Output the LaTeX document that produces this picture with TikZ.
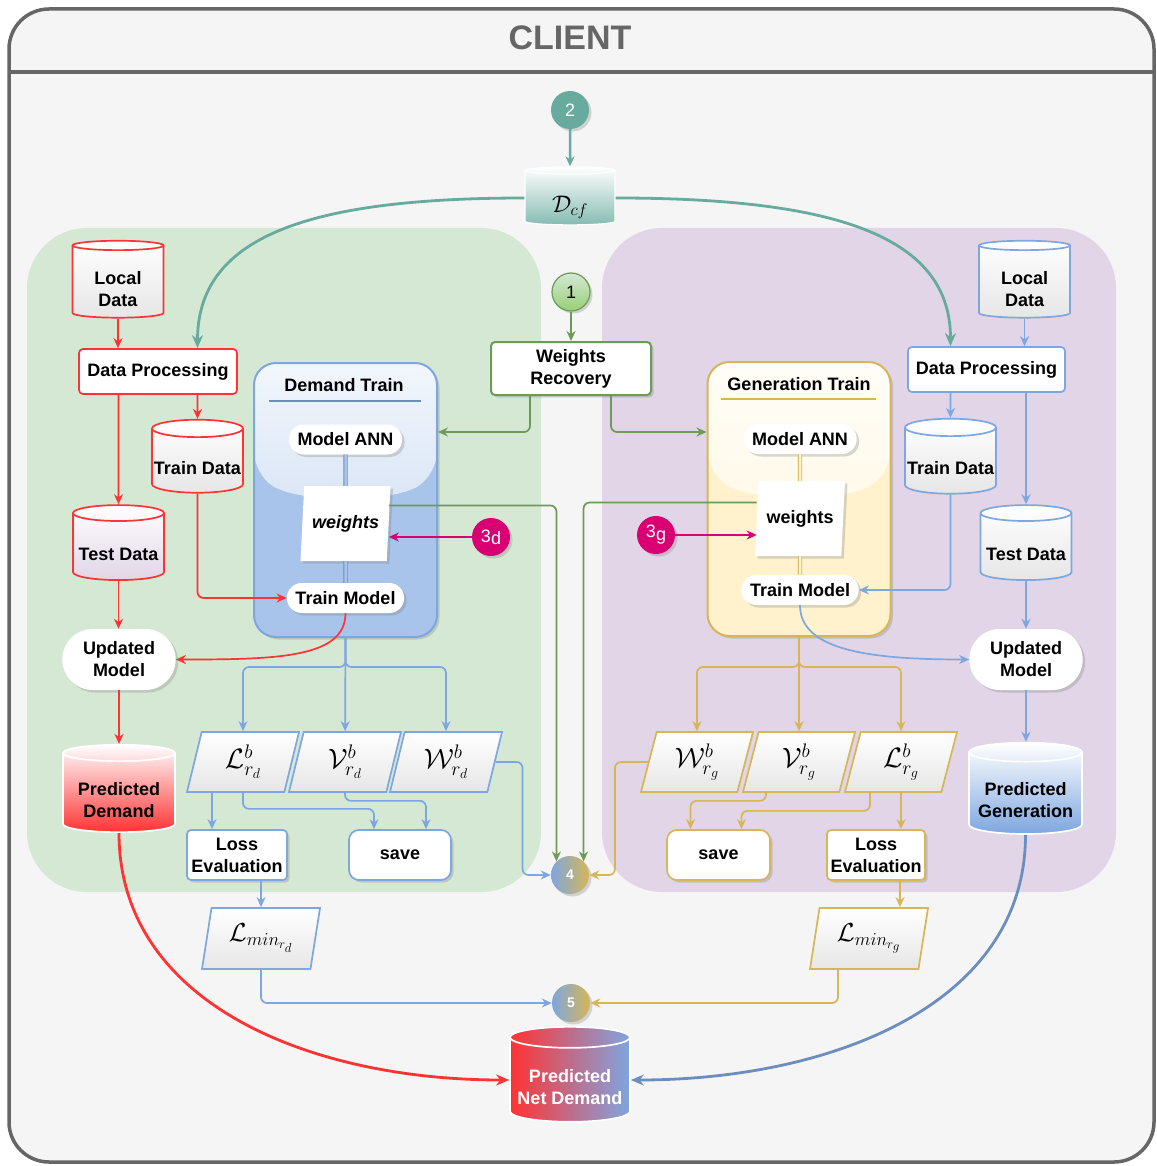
\documentclass[tikz,border=0pt]{standalone}
\usepackage{fix-cm}
\usepackage{fontspec}
\setmainfont{Liberation Sans}
\usepackage{amsmath}
\usetikzlibrary{arrows.meta, positioning, shapes.geometric, shapes.misc, calc, shadows}

\definecolor{framegray}{HTML}{666666}
\definecolor{framebg}{HTML}{F5F5F5}
\definecolor{leafgreen}{HTML}{D5E8D4}
\definecolor{lilac}{HTML}{E1D5E7}
\definecolor{tealc}{HTML}{67AB9F}
\definecolor{demandred}{HTML}{FF3333}
\definecolor{genblue}{HTML}{7EA6E0}
\definecolor{curveblue}{HTML}{6C8EBF}
\definecolor{genyellow}{HTML}{D6B656}
\definecolor{weightgreen}{HTML}{6D9B57}
\definecolor{limegreen}{HTML}{97D077}
\definecolor{stepmagenta}{HTML}{D80073}
\definecolor{skyblue}{HTML}{A9C4EB}
\definecolor{cream}{HTML}{FFF2CC}
\definecolor{boxgray}{HTML}{E6E6E6}

% text of a cylinder sits below its lid
\newcommand{\cyllabel}[1]{\setbox0\hbox{\begin{tabular}{@{}c@{}}#1\end{tabular}}%
  \ht0=\dimexpr\ht0+18pt\relax\box0}

\begin{document}
\begin{tikzpicture}[
    x=1pt, y=-1pt,
    font=\fontsize{18}{22}\selectfont\bfseries,
    arrow/.style={-{Stealth[length=10pt, width=9pt]}, line width=1.7pt, rounded corners=6pt},
    bigarrow/.style={-{Stealth[length=13pt, width=11pt]}, line width=2.8pt},
    shadowed/.style={drop shadow={shadow xshift=2.5pt, shadow yshift=-2.5pt, opacity=0.3}},
    db/.style={cylinder, shape border rotate=90, aspect=0.2, line width=1.7pt,
               minimum width=91pt, minimum height=75pt, inner sep=0pt,
               top color=white, bottom color=boxgray},
    proc/.style={draw, rounded corners=4pt, fill=white, line width=1.7pt,
                 align=center, inner sep=1pt},
    pill/.style={rounded rectangle, fill=white, minimum width=120pt,
                 minimum height=30pt, align=center, shadowed},
    para/.style={trapezium, trapezium left angle=70, trapezium right angle=110,
                 trapezium stretches body, draw, line width=1.7pt,
                 top color=white, bottom color=boxgray, inner xsep=0pt,
                 minimum width=112pt, minimum height=60pt,
                 font=\fontsize{28}{30}\selectfont},
    wbox/.style={trapezium, trapezium left angle=81, trapezium right angle=99,
                 trapezium stretches body, fill=white, minimum width=90pt,
                 minimum height=75pt, shadowed},
    badge/.style={circle, minimum size=38pt, inner sep=0pt, shadowed,
                  font=\fontsize{18}{20}\selectfont\mdseries},
    trainbox/.style={draw, line width=2pt, rounded corners=22pt,
                     minimum width=183pt, minimum height=274pt, shadowed},
    glass/.style={path picture={
        \shade[top color=#1!15!white, bottom color=#1!70!white]
          ($(path picture bounding box.north west)+(0,111)$)
          .. controls ($(path picture bounding box.north west)+(45,140)$)
          and ($(path picture bounding box.north east)+(-45,140)$) ..
          ($(path picture bounding box.north east)+(0,111)$)
          |- (path picture bounding box.north west) -- cycle;}},
  ]
    \useasboundingbox (0,0) rectangle (1156,1166);

    % client frame
    \draw[framegray, line width=3.5pt, fill=framebg, rounded corners=40pt]
      (9,9) rectangle (1154,1162);
    \draw[framegray, line width=3.5pt] (9,72) -- (1154,72);
    \node[font=\fontsize{34}{36}\selectfont\bfseries, text=framegray]
      (client) at (570,38) {CLIENT};

    % demand and generation areas
    \fill[leafgreen, rounded corners=60pt] (27,228) rectangle (541,892);
    \fill[lilac, rounded corners=60pt] (602,228) rectangle (1116,892);

    % shared dataset
    \node[badge, fill=tealc, text=white] (s2) at (570,110) {2};
    \node[db, draw=white, line width=1.2pt, bottom color=tealc!80!white,
          minimum width=90pt, minimum height=58pt,
          font=\fontsize{24}{26}\selectfont] (dcf) at (570,198)
      {\cyllabel{$\mathcal{D}_{cf}$}};

    % weights recovery
    \node[badge, draw=weightgreen, line width=1.2pt, top color=leafgreen,
          bottom color=limegreen] (s1) at (571,292) {1};
    \node[proc, draw=weightgreen, line width=2pt, minimum width=160pt,
          minimum height=53pt, shadowed] (recover) at (571,368.5)
      {Weights\\Recovery};

    % demand side
    \node[db, draw=demandred] (dlocal) at (118,282) {\cyllabel{Local\\Data}};
    \node[proc, draw=demandred, minimum width=158pt, minimum height=45pt]
      (dprep) at (158,371.5) {Data Processing};
    \node[db, draw=demandred, minimum height=73pt] (dtraindata) at (197.5,461)
      {\cyllabel{Train Data}};
    \node[db, draw=demandred, bottom color=lilac] (dtest) at (118.5,547)
      {\cyllabel{Test Data}};
    \node[pill, minimum height=61pt] (dupdate) at (119,659.5) {Updated\\Model};
    \node[db, draw=white, bottom color=demandred, minimum width=112pt,
          minimum height=87pt] (dpred) at (119,793)
      {\cyllabel{Predicted\\Demand}};

    % demand train block
    \node[trainbox, draw=genblue, fill=skyblue, glass=skyblue] (dbox) at (345.5,500) {};
    \node (dtitle) at (344,385) {Demand Train};
    \draw[curveblue, line width=2pt] ($(dbox.north west)+(16,39)$)
      -- ($(dbox.north east)+(-17,39)$);
    \node[pill] (dann) at (345.5,439.5) {Model ANN};
    \node[wbox, font=\fontsize{18}{22}\selectfont\bfseries\itshape]
      (dweights) at (345.5,523.5) {weights};
    \node[pill, minimum width=124pt] (dtm) at (345.5,598) {Train Model};
    \node[badge, fill=stepmagenta, text=white] (s3d) at (491,537)
      {3\raisebox{-2pt}{d}};

    \node[para, draw=genblue] (dloss) at (243,762) {$\mathcal{L}^b_{r_d}$};
    \node[para, draw=genblue] (dval) at (345,762) {$\mathcal{V}^b_{r_d}$};
    \node[para, draw=genblue] (dwgt) at (446,762) {$\mathcal{W}^b_{r_d}$};
    \node[proc, draw=genblue, minimum width=100pt, minimum height=50pt, shadowed]
      (deval) at (237,855) {Loss\\Evaluation};
    \node[proc, draw=genblue, rounded corners=10pt, minimum width=102pt,
          minimum height=50pt, shadowed] (dsave) at (400,855) {save};
    \node[para, draw=genblue, trapezium left angle=75, trapezium right angle=105,
          minimum width=118pt, minimum height=61pt, font=\fontsize{26}{28}\selectfont]
      (dmin) at (261,938.5) {$\mathcal{L}_{min_{r_d}}$};

    % generation side
    \node[db, draw=genblue] (glocal) at (1024.5,282) {\cyllabel{Local\\Data}};
    \node[proc, draw=genblue, minimum width=157pt, minimum height=45pt]
      (gprep) at (986.5,369.5) {Data Processing};
    \node[db, draw=genblue] (gtraindata) at (950.5,461) {\cyllabel{Train Data}};
    \node[db, draw=genblue] (gtest) at (1026,547) {\cyllabel{Test Data}};
    \node[pill, minimum height=61pt] (gupdate) at (1026,659.5) {Updated\\Model};
    \node[db, draw=white, bottom color=genblue, minimum width=113pt,
          minimum height=87pt] (gpred) at (1025.5,793.5)
      {\cyllabel{Predicted\\Generation}};

    % generation train block
    \node[trainbox, draw=genyellow, fill=cream, glass=cream] (gbox) at (799,499) {};
    \node (gtitle) at (799,384) {Generation Train};
    \draw[genyellow, line width=2pt] ($(gbox.north west)+(14,38)$)
      -- ($(gbox.north east)+(-16,38)$);
    \node[pill] (gann) at (800,439) {Model ANN};
    \node[wbox] (gweights) at (800,518.5) {weights};
    \node[pill, minimum width=124pt] (gtm) at (800,590) {Train Model};
    \node[badge, fill=stepmagenta, text=white] (s3g) at (656,535)
      {3\raisebox{-3pt}{g}};

    \node[para, draw=genyellow] (gwgt) at (697,762) {$\mathcal{W}^b_{r_g}$};
    \node[para, draw=genyellow] (gval) at (799,762) {$\mathcal{V}^b_{r_g}$};
    \node[para, draw=genyellow] (gloss) at (901,762) {$\mathcal{L}^b_{r_g}$};
    \node[proc, draw=genyellow, rounded corners=10pt, minimum width=103pt,
          minimum height=50pt, shadowed] (gsave) at (718.5,855) {save};
    \node[proc, draw=genyellow, minimum width=98pt, minimum height=50pt, shadowed]
      (geval) at (876,855) {Loss\\Evaluation};
    \node[para, draw=genyellow, trapezium left angle=75, trapezium right angle=105,
          minimum width=118pt, minimum height=61pt, font=\fontsize{26}{28}\selectfont]
      (gmin) at (869,938.5) {$\mathcal{L}_{min_{r_g}}$};

    % aggregation steps and net demand
    \node[badge, left color=genblue, right color=genyellow, text=white,
          font=\fontsize{14}{16}\selectfont\bfseries] (s4) at (570,875) {4};
    \node[badge, left color=genblue, right color=genyellow, text=white,
          font=\fontsize{14}{16}\selectfont\bfseries] (s5) at (571,1003) {5};
    \node[db, draw=white, left color=demandred, right color=genblue, text=white,
          minimum width=120pt, minimum height=95pt] (net) at (570,1080)
      {\cyllabel{Predicted\\Net Demand}};

    % Arrows
    \draw[arrow, tealc, line width=2.5pt] (s2) -- (dcf);
    \draw[bigarrow, tealc] (dcf.west) .. controls +(-220,0) and +(0,-110) ..
      (dtraindata.north |- dprep.north);
    \draw[bigarrow, tealc] (dcf.east) .. controls +(220,0) and +(0,-110) ..
      (gtraindata.north |- gprep.north);

    \draw[arrow, weightgreen] (s1) -- (recover);
    \draw[arrow, weightgreen] ([xshift=-41pt]recover.south) |- ([yshift=68pt]dbox.east);
    \draw[arrow, weightgreen] ([xshift=40pt]recover.south) |- ([yshift=67pt]gbox.west);
    \draw[arrow, weightgreen] ([yshift=18pt]dweights.right side) -| (s4.north west);
    \draw[arrow, weightgreen] ([yshift=16pt]gweights.left side) -| (s4.north east);
    \draw[arrow, stepmagenta] (s3d) -- (s3d -| dweights.right side);
    \draw[arrow, stepmagenta] (s3g) -- (s3g -| gweights.left side);

    \draw[curveblue, line width=0.8pt, double=skyblue, double distance=2.5pt]
      (dann) -- (dweights);
    \draw[curveblue, line width=0.8pt, double=skyblue, double distance=2.5pt]
      (dweights) -- (dtm);
    \draw[genyellow, line width=0.8pt, double=cream, double distance=2.5pt]
      (gann) -- (gweights);
    \draw[genyellow, line width=0.8pt, double=cream, double distance=2.5pt]
      (gweights) -- (gtm);

    % demand data flow
    \draw[arrow, demandred] (dlocal) -- (dlocal |- dprep.north);
    \draw[arrow, demandred] (dtraindata |- dprep.south) -- (dtraindata);
    \draw[arrow, demandred] (dtest |- dprep.south) -- (dtest);
    \draw[arrow, demandred] (dtest) -- (dtest |- dupdate.north);
    \draw[arrow, demandred] (dupdate) -- (dupdate |- dpred.north);
    \draw[arrow, demandred] (dtraindata) |- (dtm);
    \draw[arrow, demandred] (dtm.south) .. controls +(0,45) and +(100,0) .. (dupdate.east);
    \draw[bigarrow, demandred] (dpred.south) .. controls +(0,170) and +(-200,0) .. (net.west);

    \draw[arrow, genblue] (dbox.south) -- (dval);
    \draw[arrow, genblue] (dbox.south) -- ++(0,29) -| (dloss);
    \draw[arrow, genblue] (dbox.south) -- ++(0,29) -| (dwgt);
    \coordinate (devalin) at ($(deval.north)+(-25,0)$);
    \draw[arrow, genblue] (devalin |- dloss.south) -- (devalin);
    \draw[arrow, genblue] (dloss.south -| dloss) -- ++(0,16) -| ($(dsave.north)+(-26,0)$);
    \draw[arrow, genblue] (dval.south -| dval) -- ++(0,8) -| ($(dsave.north)+(26,0)$);
    \draw[arrow, genblue] (dwgt.right side) -- ++(27,0) |- (s4);
    \draw[arrow, genblue] (deval.south -| dmin) -- (dmin);
    \draw[arrow, genblue] (dmin) |- (s5);

    % generation data flow
    \draw[arrow, genblue] (glocal) -- (glocal |- gprep.north);
    \draw[arrow, genblue] (gtraindata |- gprep.south) -- (gtraindata);
    \draw[arrow, genblue] (gtest |- gprep.south) -- (gtest);
    \draw[arrow, genblue] (gtest) -- (gtest |- gupdate.north);
    \draw[arrow, genblue] (gupdate) -- (gupdate |- gpred.north);
    \draw[arrow, genblue] (gtraindata) |- (gtm);
    \draw[arrow, genblue] (gtm.south) .. controls +(0,45) and +(-100,0) .. (gupdate.west);
    \draw[bigarrow, curveblue] (gpred.south) .. controls +(0,170) and +(200,0) .. (net.east);

    \draw[arrow, genyellow] (gbox.south) -- (gval);
    \draw[arrow, genyellow] (gbox.south) -- ++(0,30) -| (gwgt);
    \draw[arrow, genyellow] (gbox.south) -- ++(0,30) -| (gloss);
    \draw[arrow, genyellow] (gwgt.left side) -- ++(-33,0) |- (s4);
    \draw[arrow, genyellow] ($(gval.south -| gval)+(-33,0)$) -- ++(0,8)
      -| ($(gsave.north)+(-28,0)$);
    \draw[arrow, genyellow] ($(gloss.south -| gloss)+(-31,0)$) -- ++(0,18)
      -| ($(gsave.north)+(23,0)$);
    \coordinate (gevalin) at ($(geval.north)+(25,0)$);
    \draw[arrow, genyellow] (gevalin |- gloss.south) -- (gevalin);
    \coordinate (gminin) at ($(geval.south)+(24,0)$);
    \draw[arrow, genyellow] (gminin) -- (gminin |- gmin.north);
    \draw[arrow, genyellow] ($(gmin.south -| gmin)+(-31,0)$) |- (s5);
\end{tikzpicture}
\end{document}
